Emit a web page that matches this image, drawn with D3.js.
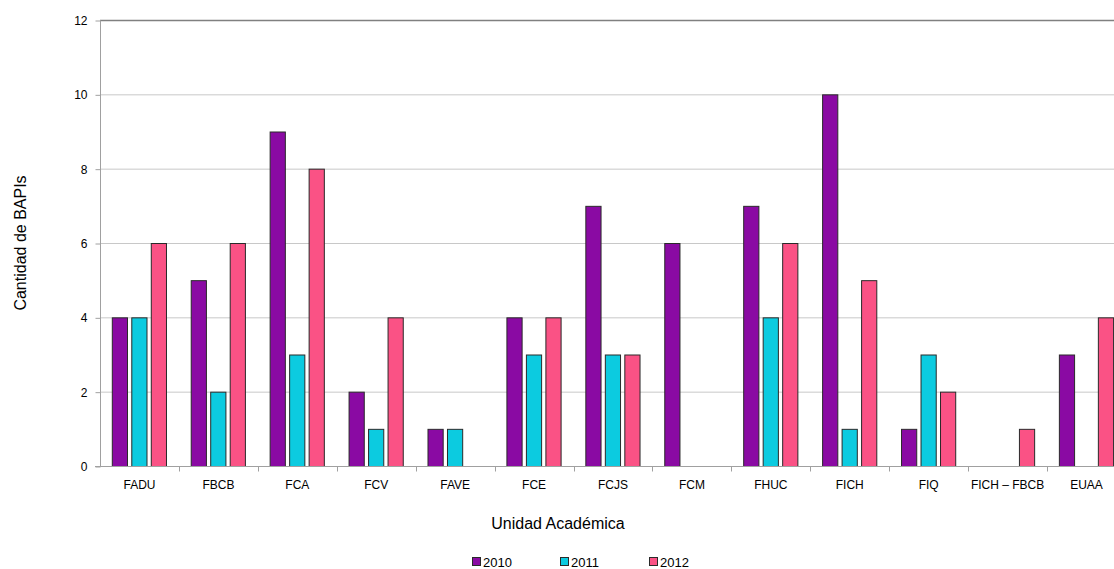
<!DOCTYPE html>
<html><head><meta charset="utf-8">
<script src="https://cdn.jsdelivr.net/npm/d3@7"></script>
<style>body{margin:0;background:#fff}svg{display:block}text{font-family:"Liberation Sans",Arial,sans-serif;fill:#000}</style>
</head><body>
<svg id="c" width="1114" height="569"></svg>
<script>
const categories = ["FADU","FBCB","FCA","FCV","FAVE","FCE","FCJS","FCM","FHUC","FICH","FIQ","FICH – FBCB","EUAA"];
const seriesNames = ["2010","2011","2012"];
const v2010 = [4,5,9,2,1,4,7,6,7,10,1,0,3];
const v2011 = [4,2,3,1,1,3,3,0,4,1,3,0,0];
const v2012 = [6,6,8,4,0,4,3,0,6,5,2,1,4];
const yTicks = [0,2,4,6,8,10,12];
const colors = ["#8a0aa3","#0ccbe0","#fa5285"];

const values = [v2010, v2011, v2012];
const svg = d3.select("#c");
const L = 100, R = 1126, T = 20, B = 466, W = 1114;
const x0 = d3.scaleBand().domain(categories).range([L, R]).padding(0);
const gw = x0.bandwidth();
const x1 = d3.scaleBand().domain(seriesNames).range([gw*11.8/78.94, gw*66/78.94]).paddingInner(0.22).paddingOuter(0);
const y = d3.scaleLinear().domain([0, 12]).range([B, T]);

// gridlines
svg.append("g").selectAll("line").data(yTicks.filter(d => d > 0)).join("line")
  .attr("x1", L).attr("x2", W).attr("y1", d => y(d) + 0.5).attr("y2", d => y(d) + 0.5)
  .attr("stroke", d => d === 12 ? "#808080" : "#c8c8c8").attr("stroke-width", d => d === 12 ? 1.5 : 1);

// y axis
const yAxis = d3.axisLeft(y).tickValues(yTicks).tickSize(5).tickPadding(8).tickFormat(d3.format("d"));
const gy = svg.append("g").attr("transform", `translate(${L+0.5},0.5)`).call(yAxis);
gy.select(".domain").attr("stroke", "#a0a0a0").attr("d", `M0,${T}V${B}`);
gy.selectAll(".tick line").attr("stroke", "#a0a0a0");
gy.selectAll("text").attr("font-size", 12).attr("font-family", "Liberation Sans, Arial, sans-serif").attr("fill", "#000");

// bars
const groups = svg.append("g").selectAll("g").data(categories).join("g")
  .attr("transform", d => `translate(${x0(d)},0)`);
groups.selectAll("rect").data((d, i) => seriesNames.map((s, k) => ({s, k, v: values[k][i]})).filter(e => e.v > 0))
  .join("rect")
  .attr("x", e => x1(e.s) + 0.5).attr("width", x1.bandwidth())
  .attr("y", e => y(e.v) + 0.5).attr("height", e => y(0) - y(e.v))
  .attr("fill", e => colors[e.k]).attr("stroke", "#2a2a2a").attr("stroke-width", 1);

// x axis
const xAxis = d3.axisBottom(x0).tickSize(0).tickPadding(14);
const gx = svg.append("g").attr("transform", `translate(0,${B+0.5})`).call(xAxis);
gx.select(".domain").attr("stroke", "#a0a0a0").attr("d", `M${L-5},0H${W}`);
gx.selectAll("text").attr("font-size", 12).attr("font-family", "Liberation Sans, Arial, sans-serif").attr("fill", "#000");
// boundary ticks
gx.append("g").selectAll("line").data(categories.slice(1)).join("line")
  .attr("x1", d => Math.round(x0(d)) + 0.5).attr("x2", d => Math.round(x0(d)) + 0.5).attr("y1", 0).attr("y2", 5)
  .attr("stroke", "#a0a0a0");

// titles
svg.append("text").attr("x", 558).attr("y", 529).attr("text-anchor", "middle")
  .attr("font-size", 16).text("Unidad Académica");
svg.append("text").attr("transform", "translate(26,243) rotate(-90)").attr("text-anchor", "middle")
  .attr("font-size", 16).text("Cantidad de BAPIs");

// legend
const legX = [472, 560, 649];
const leg = svg.append("g").selectAll("g").data(seriesNames).join("g")
  .attr("transform", (d, i) => `translate(${legX[i]},557)`);
leg.append("rect").attr("x", 0.5).attr("y", 0.5).attr("width", 8).attr("height", 8)
  .attr("fill", (d, i) => colors[i]).attr("stroke", "#2a2a2a");
leg.append("text").attr("x", 11).attr("y", 9.5).attr("font-size", 13).text(d => d);
</script>
</body></html>
